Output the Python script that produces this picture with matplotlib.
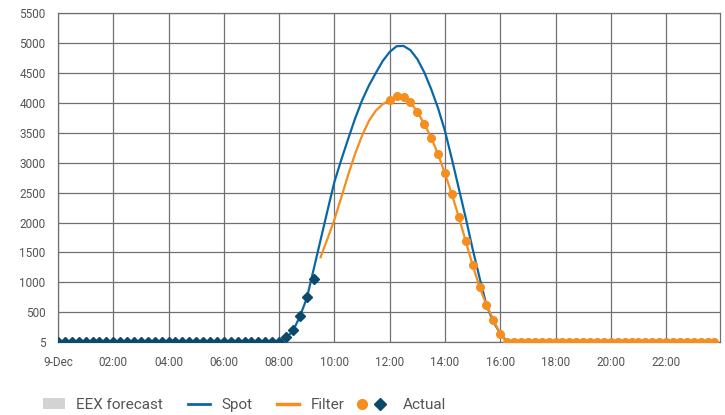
import numpy as np
import matplotlib
matplotlib.use("Agg")
import matplotlib.pyplot as plt
from matplotlib.patches import Patch
from matplotlib.lines import Line2D
from matplotlib.legend_handler import HandlerBase

plt.rcParams['font.family'] = ['Roboto', 'DejaVu Sans']

# quarter-hour series, values in MW
actual_start = 0.0
actual_vals = [5, 5, 5, 5, 5, 5, 5, 5, 5, 5, 5, 5, 5, 5, 5, 5, 5,
               5, 5, 5, 5, 5, 5, 5, 5, 5, 5, 5, 5, 5, 5, 5, 5,
               85, 205, 435, 750, 1050]

spot_start = 0.0
spot_vals = [5, 5, 5, 5, 5, 5, 5, 5, 5, 5, 5, 5, 5, 5, 5, 5, 5,
             5, 5, 5, 5, 5, 5, 5, 5, 5, 5, 5, 5, 5, 5, 5, 5,
             70, 190, 430, 735, 1220, 1710, 2200, 2680, 3050, 3400, 3740,
             4040, 4290, 4500, 4700, 4850, 4945, 4950, 4880, 4730, 4510,
             4230, 3910, 3530, 3060, 2570, 2080, 1560, 1080, 620, 340, 150,
             5, 5, 5, 5, 5, 5, 5, 5, 5, 5, 5, 5, 5, 5, 5, 5,
             5, 5, 5, 5, 5, 5, 5, 5, 5, 5, 5, 5, 5, 5, 5]

filter_start = 9.5
filter_vals = [1420, 1730, 2050, 2420, 2800, 3150, 3450, 3700, 3870, 3980,
               4040, 4110, 4095, 4010, 3850, 3650, 3420, 3140, 2820, 2470,
               2095, 1690, 1290, 925, 620, 380, 135,
               5, 5, 5, 5, 5, 5, 5, 5, 5, 5, 5, 5, 5, 5, 5, 5,
               5, 5, 5, 5, 5, 5, 5, 5, 5, 5, 5, 5, 5, 5, 5]

dots_start = 12.0
dots_vals = [4040, 4110, 4095, 4010, 3850, 3650, 3420, 3140, 2820, 2470,
             2095, 1690, 1290, 925, 620, 380, 135,
             5, 5, 5, 5, 5, 5, 5, 5, 5, 5, 5, 5, 5, 5, 5, 5,
             5, 5, 5, 5, 5, 5, 5, 5, 5, 5, 5, 5, 5, 5, 5]

x_ticks = [0, 2, 4, 6, 8, 10, 12, 14, 16, 18, 20, 22]
x_labels = ['9-Dec', '02:00', '04:00', '06:00', '08:00', '10:00',
            '12:00', '14:00', '16:00', '18:00', '20:00', '22:00']
y_ticks = [5, 500, 1000, 1500, 2000, 2500, 3000, 3500, 4000, 4500, 5000, 5500]

spot_color = '#0868a6'
filter_color = '#f68d1f'
diamond_color = '#0b4a6b'
grid_color = '#707070'
text_color = '#555555'


def qh(start, vals):
    return start + np.arange(len(vals)) * 0.25


class ActualHandler(HandlerBase):
    # circle + diamond side by side, circle reaching a bit left of the box
    def create_artists(self, legend, orig_handle, xdescent, ydescent,
                       width, height, fontsize, trans):
        y = height / 2 - ydescent
        x0 = -xdescent
        c = Line2D([x0 - 0.3 * width], [y], marker='o', ls='none',
                   color=filter_color, ms=7, transform=trans)
        d = Line2D([x0 + 0.52 * width], [y], marker='D', ls='none',
                   color=diamond_color, ms=6.3, transform=trans)
        return [c, d]


fig = plt.figure(figsize=(7.25, 4.15), dpi=100, facecolor='white')
ax = fig.add_axes([58 / 725, 73 / 415, 662 / 725, 329 / 415])

ax.plot(qh(spot_start, spot_vals), spot_vals, color=spot_color, lw=1.6, zorder=3)
ax.plot(qh(filter_start, filter_vals), filter_vals, color=filter_color, lw=1.6, zorder=4)
ax.plot(qh(dots_start, dots_vals), dots_vals, 'o', color=filter_color, ms=5.5,
        mec=filter_color, zorder=5)
ax.plot(qh(actual_start, actual_vals), actual_vals, 'D', color=diamond_color, ms=5,
        zorder=6)

ax.set_xlim(0, 23.95)
ax.set_ylim(5, 5500)
ax.set_xticks(x_ticks)
ax.set_xticklabels(x_labels)
ax.set_yticks(y_ticks)
ax.tick_params(length=0, labelsize=8.5, labelcolor=text_color)
ax.tick_params(axis='x', pad=10)
ax.tick_params(axis='y', pad=9)
ax.grid(True, color=grid_color, lw=0.9)
ax.set_axisbelow(True)
for spine in ax.spines.values():
    spine.set_color(grid_color)
    spine.set_linewidth(0.9)

actual_key = object()
handles = [
    Patch(facecolor='#d3d3d3', edgecolor='none'),
    Line2D([], [], color=spot_color, lw=2),
    Line2D([], [], color=filter_color, lw=2.5),
    actual_key,
]
labels = ['EEX forecast', 'Spot', 'Filter', 'Actual']
leg = fig.legend(handles, labels, loc='center left', bbox_to_anchor=(0.059, 0.024),
                 ncol=4, frameon=False, fontsize=11, handlelength=1.45,
                 handletextpad=0.75, columnspacing=1.6, borderpad=0, borderaxespad=0,
                 handler_map={actual_key: ActualHandler()})
for t in leg.get_texts():
    t.set_color(text_color)

fig.savefig('out.png', dpi=100, facecolor='white')
